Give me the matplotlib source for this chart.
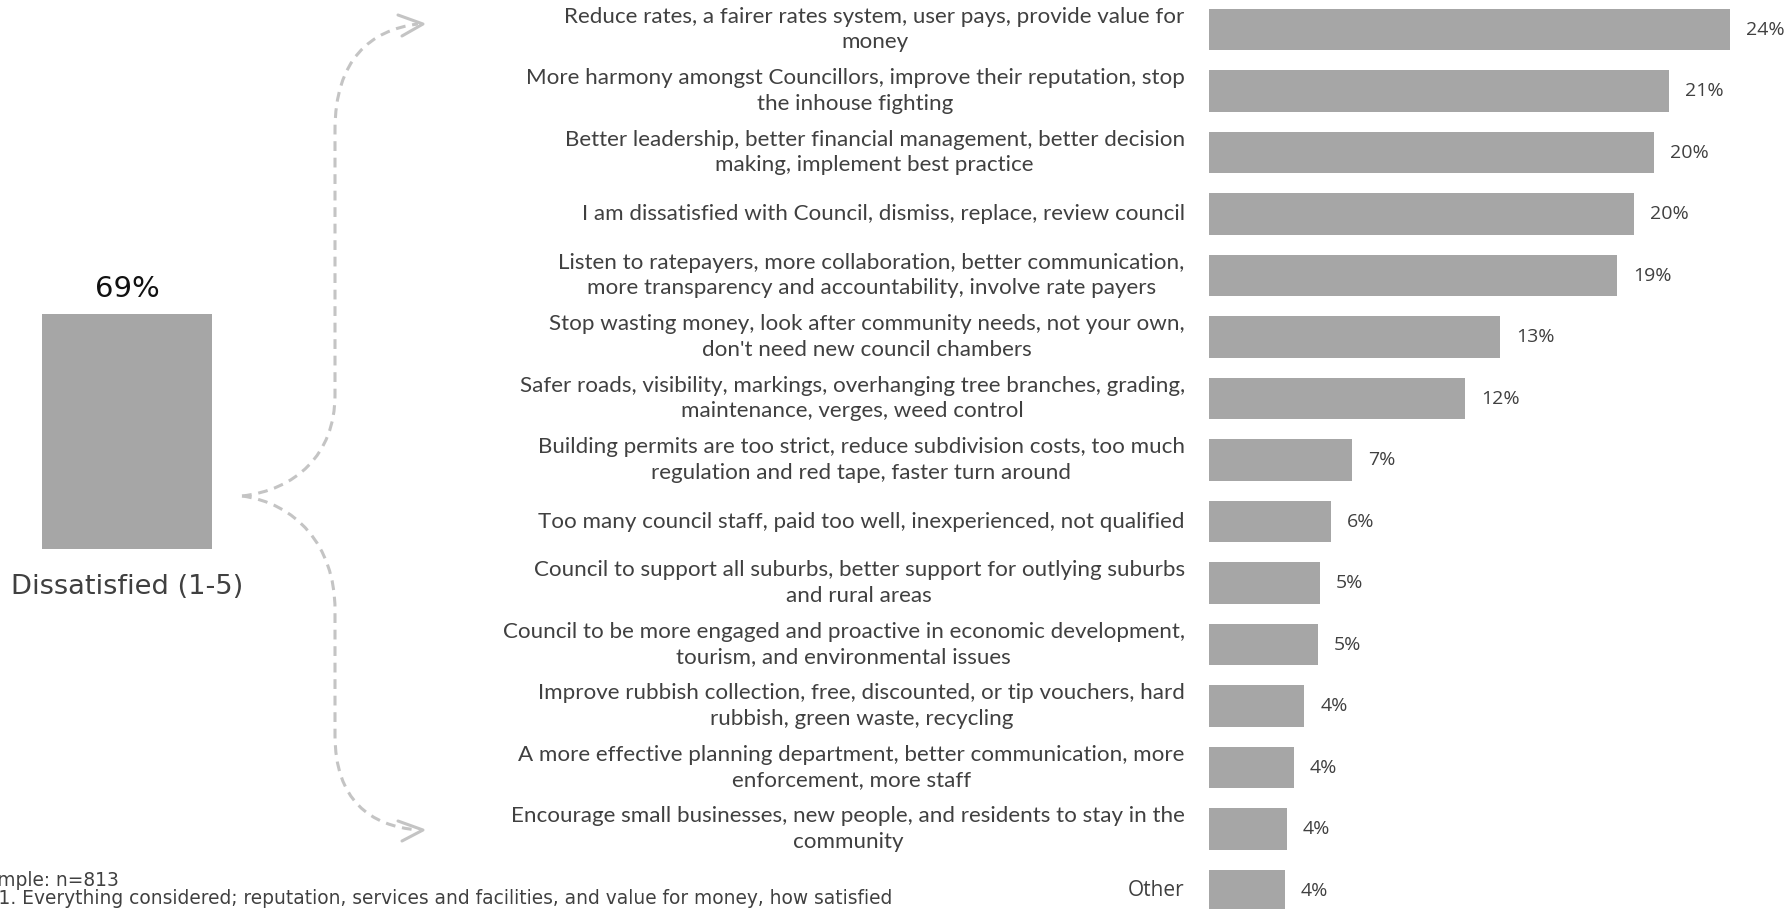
import matplotlib
matplotlib.use("Agg")
import matplotlib.pyplot as plt
from matplotlib.path import Path
from matplotlib.patches import PathPatch

# ---------------- data ----------------
categories = [
    "Reduce rates, a fairer rates system, user pays, provide value for\nmoney",
    "More harmony amongst Councillors, improve their reputation, stop\nthe inhouse fighting",
    "Better leadership, better financial management, better decision\nmaking, implement best practice",
    "I am dissatisfied with Council, dismiss, replace, review council",
    "Listen to ratepayers, more collaboration, better communication,\nmore transparency and accountability, involve rate payers",
    "Stop wasting money, look after community needs, not your own,\ndon't need new council chambers",
    "Safer roads, visibility, markings, overhanging tree branches, grading,\nmaintenance, verges, weed control",
    "Building permits are too strict, reduce subdivision costs, too much\nregulation and red tape, faster turn around",
    "Too many council staff, paid too well, inexperienced, not qualified",
    "Council to support all suburbs, better support for outlying suburbs\nand rural areas",
    "Council to be more engaged and proactive in economic development,\ntourism, and environmental issues",
    "Improve rubbish collection, free, discounted, or tip vouchers, hard\nrubbish, green waste, recycling",
    "A more effective planning department, better communication, more\nenforcement, more staff",
    "Encourage small businesses, new people, and residents to stay in the\ncommunity",
    "Other",
]
values = [24.0, 21.2, 20.5, 19.6, 18.8, 13.4, 11.8, 6.6, 5.6, 5.1, 5.0, 4.4, 3.9, 3.6, 3.5]
value_labels = ["24%", "21%", "20%", "20%", "19%", "13%", "12%", "7%", "6%", "5%",
                "5%", "4%", "4%", "4%", "4%"]

summary_label = "Dissatisfied (1-5)"
summary_value = 69
summary_text = "69%"

footnotes = ["Sample: n=813",
             "Q1. Everything considered; reputation, services and facilities, and value for money, how satisfied"]

BAR = "#a6a6a6"
TXT = "#404040"
LINE = "#c4c4c4"

W, H = 1791, 909
fig = plt.figure(figsize=(W / 100, H / 100), dpi=100)

# ---------------- main horizontal bars ----------------
x0 = 1209
ax = fig.add_axes([x0 / W, 0, (W - x0) / W, 1])
ypos = list(range(len(categories)))
ax.barh(ypos, values, height=0.67, color=BAR)
ax.set_xlim(0, (W - x0) / 21.7)
ax.set_ylim(14.30, -0.48)
ax.axis("off")
for y, v, lab, cat in zip(ypos, values, value_labels, categories):
    ax.annotate(lab, (v, y), xytext=(11.5, 0), textcoords="offset points",
                ha="left", va="center", fontsize=14, color=TXT, family="Open Sans",
                annotation_clip=False)
    if cat == "Other":
        ax.annotate(cat, (0, y), xytext=(-17.5, 0), textcoords="offset points",
                    ha="right", va="center", fontsize=15, color=TXT,
                    family="Open Sans", annotation_clip=False)
    else:
        ax.annotate(cat, (0, y), xytext=(-17.5, 0), textcoords="offset points",
                    ha="right", va="center", multialignment="center",
                    fontsize=16.1, color=TXT, family="Lato", linespacing=1.32,
                    annotation_clip=False)

# ---------------- left summary bar ----------------
axl = fig.add_axes([42 / W, (H - 549) / H, (212 - 42) / W, (549 - 314) / H])
axl.bar([0], [summary_value], width=1.0, color=BAR)
axl.set_xlim(-0.5, 0.5)
axl.set_ylim(0, summary_value)
axl.axis("off")
axl.annotate(summary_text, (0, summary_value), xytext=(0, 8), textcoords="offset points",
             ha="center", va="bottom", fontsize=21, color="#111111", annotation_clip=False)
axl.annotate(summary_label, (0, 0), xytext=(0, -18), textcoords="offset points",
             ha="center", va="top", fontsize=19.6, color=TXT, annotation_clip=False)

# ---------------- brace with arrows (overlay in pixel coords) ----------------
ov = fig.add_axes([0, 0, 1, 1], zorder=-1)
ov.set_xlim(0, W)
ov.set_ylim(H, 0)
ov.axis("off")

C = Path.CURVE4
up = Path([(242, 496), (295, 490), (335, 455), (335, 395),
           (335, 130),
           (335, 60), (370, 30), (418, 24)],
          [Path.MOVETO, C, C, C, Path.LINETO, C, C, C])
dn = Path([(242, 496), (295, 503), (335, 545), (335, 610),
           (335, 735),
           (335, 800), (370, 826), (418, 830)],
          [Path.MOVETO, C, C, C, Path.LINETO, C, C, C])
for p in (up, dn):
    ov.add_patch(PathPatch(p, fill=False, edgecolor=LINE, lw=2.2,
                           linestyle=(0, (3.2, 2.2))))
# arrow heads (open chevrons)
ov.plot([398, 423, 402], [15, 24, 36], color=LINE, lw=2.2, solid_capstyle="round")
ov.plot([398, 423, 402], [821, 830, 841], color=LINE, lw=2.2, solid_capstyle="round")

# ---------------- footnotes ----------------
fig.text(-26 / W, 1 - 880 / H, footnotes[0], ha="left", va="center", fontsize=13.4, color=TXT)
fig.text(-15.5 / W, 1 - 898 / H, footnotes[1], ha="left", va="center", fontsize=13.4, color=TXT)

fig.savefig("out.png", dpi=100)
